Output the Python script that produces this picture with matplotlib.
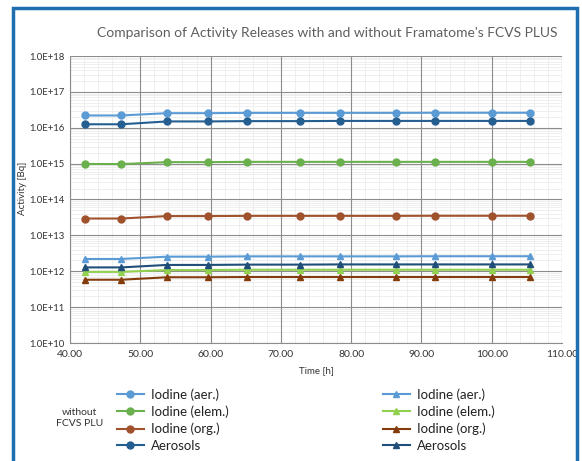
import matplotlib
matplotlib.use("Agg")

import matplotlib.pyplot as plt
from matplotlib.lines import Line2D
from matplotlib.patches import Rectangle
from matplotlib.ticker import FixedLocator, FuncFormatter, LogLocator, MultipleLocator

plt.rcParams["font.family"] = ["Lato", "DejaVu Sans"]

# time points [h]
time_h = [42.1, 47.3, 53.8, 59.6, 65.2, 72.7, 78.4, 86.4, 91.9, 100.1, 105.5]

# without FCVS PLUS (circles)
iod_aer_wo = [2.2e16, 2.2e16, 2.55e16, 2.55e16, 2.6e16, 2.6e16, 2.6e16, 2.6e16, 2.62e16, 2.62e16, 2.62e16]
iod_elem_wo = [9.8e14, 9.7e14, 1.1e15, 1.1e15, 1.12e15, 1.12e15, 1.12e15, 1.12e15, 1.12e15, 1.12e15, 1.12e15]
iod_org_wo = [2.95e13, 2.95e13, 3.45e13, 3.45e13, 3.5e13, 3.5e13, 3.5e13, 3.5e13, 3.52e13, 3.52e13, 3.52e13]
aerosols_wo = [1.25e16, 1.25e16, 1.5e16, 1.5e16, 1.53e16, 1.53e16, 1.55e16, 1.55e16, 1.55e16, 1.55e16, 1.55e16]

# with FCVS PLUS (triangles)
iod_aer_w = [2.2e12, 2.2e12, 2.55e12, 2.55e12, 2.6e12, 2.6e12, 2.6e12, 2.6e12, 2.62e12, 2.62e12, 2.62e12]
iod_elem_w = [9.6e11, 9.6e11, 1.08e12, 1.08e12, 1.1e12, 1.1e12, 1.1e12, 1.1e12, 1.1e12, 1.1e12, 1.1e12]
iod_org_w = [5.8e11, 5.8e11, 6.8e11, 6.8e11, 6.9e11, 6.9e11, 6.9e11, 6.9e11, 6.9e11, 6.9e11, 6.9e11]
aerosols_w = [1.28e12, 1.28e12, 1.5e12, 1.5e12, 1.53e12, 1.53e12, 1.55e12, 1.55e12, 1.55e12, 1.55e12, 1.55e12]

labels = ["Iodine (aer.)", "Iodine (elem.)", "Iodine (org.)", "Aerosols"]
colors_wo = ["#5b9bd5", "#6ab04c", "#a0522d", "#255e91"]
colors_w = ["#5b9bd5", "#92d050", "#843c0c", "#1f4e79"]

fig = plt.figure(figsize=(5.82, 4.61), dpi=100)
ax = fig.add_axes([70 / 582, 1 - 343 / 461, 492 / 582, 287 / 461])

for y, c in zip([iod_aer_wo, iod_elem_wo, iod_org_wo, aerosols_wo], colors_wo):
    ax.plot(time_h, y, color=c, marker="o", markersize=5, linewidth=1.5, zorder=3)
for y, c in zip([iod_aer_w, iod_elem_w, iod_org_w, aerosols_w], colors_w):
    ax.plot(time_h, y, color=c, marker="^", markersize=5, linewidth=1.5, zorder=3)

ax.set_yscale("log")
ax.set_ylim(1e10, 1e18)
ax.set_xlim(40, 110)
ax.xaxis.set_major_locator(MultipleLocator(10))
ax.xaxis.set_minor_locator(MultipleLocator(2))
ax.yaxis.set_major_locator(FixedLocator([10.0 ** k for k in range(10, 19)]))
ax.yaxis.set_minor_locator(LogLocator(base=10, subs=range(2, 10), numticks=20))
ax.xaxis.set_major_formatter(FuncFormatter(lambda v, p: f"{v:.2f}"))
ax.yaxis.set_major_formatter(FuncFormatter(lambda v, p: f"{v:.1E}"))
ax.yaxis.set_minor_formatter(FuncFormatter(lambda v, p: ""))

# minor grid drawn below the major grid
for xm in ax.xaxis.get_minorticklocs():
    ax.axvline(xm, color="#ececec", linewidth=0.6, zorder=0.1)
for ym in ax.yaxis.get_minorticklocs():
    if 1e10 < ym < 1e18:
        ax.axhline(ym, color="#ececec", linewidth=0.6, zorder=0.1)
ax.grid(True, which="major", color="#8c8c8c", linewidth=0.8)
ax.set_axisbelow(True)
ax.tick_params(axis="y", which="both", length=0, labelsize=6.8, colors="#333333", pad=4)
ax.tick_params(axis="x", which="both", length=0, labelsize=7.5, colors="#333333", pad=5)
for s in ["top", "right"]:
    ax.spines[s].set_visible(False)
for s in ["left", "bottom"]:
    ax.spines[s].set_color("#8c8c8c")

ax.set_xlabel("Time [h]", fontsize=7, color="#333333", labelpad=5)
ax.set_ylabel("Activity [Bq]", fontsize=7, color="#333333")
ax.yaxis.set_label_coords(-0.088, 0.54)

fig.text(327 / 582, 1 - 33 / 461, "Comparison of Activity Releases with and without Framatome's FCVS PLUS",
         fontsize=10, color="#5f5f5f", ha="center", va="center")

# legends
h_wo = [Line2D([], [], color=c, marker="o", markersize=5, linewidth=1.5) for c in colors_wo]
h_w = [Line2D([], [], color=c, marker="^", markersize=5, linewidth=1.5) for c in colors_w]
leg1 = fig.legend(h_wo, labels, loc="upper left", bbox_to_anchor=(112 / 582, 1 - 383 / 461),
                  frameon=False, fontsize=9.5, handlelength=2.0, handletextpad=0.55,
                  labelspacing=0.35, borderaxespad=0)
leg2 = fig.legend(h_w, labels, loc="upper left", bbox_to_anchor=(378 / 582, 1 - 383 / 461),
                  frameon=False, fontsize=9.5, handlelength=2.0, handletextpad=0.55,
                  labelspacing=0.35, borderaxespad=0)
for lg in (leg1, leg2):
    for t in lg.get_texts():
        t.set_color("#222222")
fig.text(80 / 582, 1 - 418 / 461, "without\nFCVS PLU", fontsize=7.5, color="#333333",
         ha="center", va="center", linespacing=1.3)

# blue frame
fig.patches.append(Rectangle((13 / 582, -0.02), 564 / 582, 1 - 8 / 461 + 0.02,
                             transform=fig.transFigure, fill=False, edgecolor="#1f6fb0", linewidth=2.5))

fig.savefig("out.png", dpi=100)
